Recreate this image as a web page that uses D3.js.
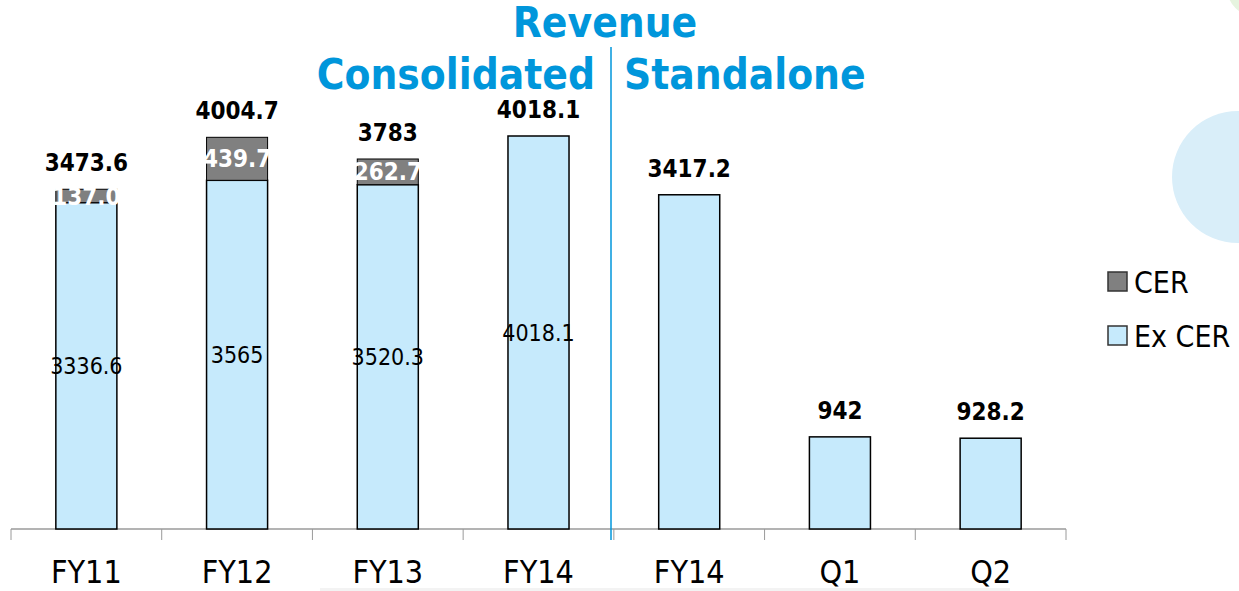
<!DOCTYPE html>
<html>
<head>
<meta charset="utf-8">
<script src="https://cdn.jsdelivr.net/npm/d3@7"></script>
<style>
  html, body { margin: 0; padding: 0; background: #fff; }
  svg { display: block; }
</style>
</head>
<body>
<svg id="chart" width="1239" height="591"></svg>
<script>
const categories = ["FY11", "FY12", "FY13", "FY14", "FY14", "Q1", "Q2"]
const exCer = [3336.6, 3565, 3520.3, 4018.1, 3417.2, 942, 928.2]
const cer = [137.0, 439.7, 262.7, 0, 0, 0, 0]
const totals = ["3473.6", "4004.7", "3783", "4018.1", "3417.2", "942", "928.2"]
const exCerLabels = ["3336.6", "3565", "3520.3", "4018.1", "", "", ""]
const cerLabels = ["137.0", "439.7", "262.7", "", "", "", ""]
const legendItems = ["CER", "Ex CER"]

const blue = "#0096db"
const lightBlue = "#c6eafc"
const grey = "#808080"
const font = "'DejaVu Sans Condensed', 'DejaVu Sans', sans-serif"

const svg = d3.select("#chart")

// background decoration at the right edge
svg.append("circle")
  .attr("cx", 1238).attr("cy", 177).attr("r", 66)
  .attr("fill", "#d9eef9")
svg.append("circle")
  .attr("cx", 1255).attr("cy", -12).attr("r", 28)
  .attr("fill", "#e6f4df")

// faint shadow under the axis labels
svg.append("rect")
  .attr("x", 320).attr("y", 588).attr("width", 690).attr("height", 3)
  .attr("fill", "#f3f3f3")

const x = d3.scaleBand()
  .domain(d3.range(categories.length))
  .range([11, 1066])
  .paddingInner(0.595)
  .paddingOuter(0.2975)

const y = d3.scaleLinear()
  .domain([0, 4018.1])
  .range([529, 136])

// axis line and ticks on category boundaries
svg.append("line")
  .attr("x1", 11).attr("x2", 1066)
  .attr("y1", 529).attr("y2", 529)
  .attr("stroke", "#9a9a9a").attr("stroke-width", 1.5)
d3.range(categories.length + 1).forEach(i => {
  const tx = 11 + i * x.step()
  svg.append("line")
    .attr("x1", tx).attr("x2", tx)
    .attr("y1", 529).attr("y2", 540)
    .attr("stroke", "#9a9a9a").attr("stroke-width", 1)
})

// category labels
svg.selectAll(".cat")
  .data(categories)
  .enter().append("text")
  .attr("x", (d, i) => x(i) + x.bandwidth() / 2)
  .attr("y", 583)
  .attr("text-anchor", "middle")
  .style("font-family", font)
  .style("font-size", "32px")
  .style("fill", "#000")
  .text(d => d)

// Ex CER bars
svg.selectAll(".ex")
  .data(exCer)
  .enter().append("rect")
  .attr("x", (d, i) => x(i))
  .attr("y", d => y(d))
  .attr("width", x.bandwidth())
  .attr("height", d => y(0) - y(d))
  .attr("fill", lightBlue)
  .attr("stroke", "#000")
  .attr("stroke-width", 1.5)

// CER bars stacked on top
svg.selectAll(".cer")
  .data(cer)
  .enter().filter(d => d > 0).append("rect")
  .attr("x", (d, i) => x(i))
  .attr("y", (d, i) => y(exCer[i] + d))
  .attr("width", x.bandwidth())
  .attr("height", (d, i) => y(exCer[i]) - y(exCer[i] + d))
  .attr("fill", grey)
  .attr("stroke", "#000")
  .attr("stroke-width", 1)

// labels inside Ex CER segments
exCerLabels.forEach((lab, i) => {
  if (!lab) return
  svg.append("text")
    .attr("x", x(i) + x.bandwidth() / 2)
    .attr("y", (y(0) + y(exCer[i])) / 2)
    .attr("dy", "0.36em")
    .attr("text-anchor", "middle")
    .style("font-family", font)
    .style("font-size", "23px")
    .style("fill", "#000")
    .text(lab)
})

// labels inside CER segments
cerLabels.forEach((lab, i) => {
  if (!lab) return
  svg.append("text")
    .attr("x", x(i) + x.bandwidth() / 2)
    .attr("y", (y(exCer[i]) + y(exCer[i] + cer[i])) / 2)
    .attr("dy", "0.36em")
    .attr("text-anchor", "middle")
    .style("font-family", font)
    .style("font-size", "24px")
    .style("font-weight", "bold")
    .style("fill", "#fff")
    .text(lab)
})

// total labels
totals.forEach((lab, i) => {
  svg.append("text")
    .attr("x", x(i) + x.bandwidth() / 2)
    .attr("y", y(exCer[i] + cer[i]) - 18)
    .attr("text-anchor", "middle")
    .style("font-family", font)
    .style("font-size", "24px")
    .style("font-weight", "bold")
    .style("fill", "#000")
    .text(lab)
})

// divider between consolidated and standalone
svg.append("line")
  .attr("x1", 611).attr("x2", 611)
  .attr("y1", 47).attr("y2", 540)
  .attr("stroke", blue).attr("stroke-width", 1.5)

// titles
const title = (txt, tx, ty, anchor) => svg.append("text")
  .attr("x", tx).attr("y", ty)
  .attr("text-anchor", anchor)
  .style("font-family", font)
  .style("font-size", "42px")
  .style("font-weight", "bold")
  .style("fill", blue)
  .text(txt)
title("Revenue", 605, 37, "middle")
title("Consolidated", 595, 89, "end")
title("Standalone", 624, 89, "start")

// legend
const legendColors = [grey, lightBlue]
legendItems.forEach((lab, i) => {
  const ly = 272 + i * 54
  svg.append("rect")
    .attr("x", 1108).attr("y", ly)
    .attr("width", 19).attr("height", 19)
    .attr("fill", legendColors[i])
    .attr("stroke", "#333").attr("stroke-width", 1.5)
  svg.append("text")
    .attr("x", 1134).attr("y", ly + 21)
    .style("font-family", font)
    .style("font-size", "30px")
    .style("fill", "#000")
    .text(lab)
})
</script>
</body>
</html>
